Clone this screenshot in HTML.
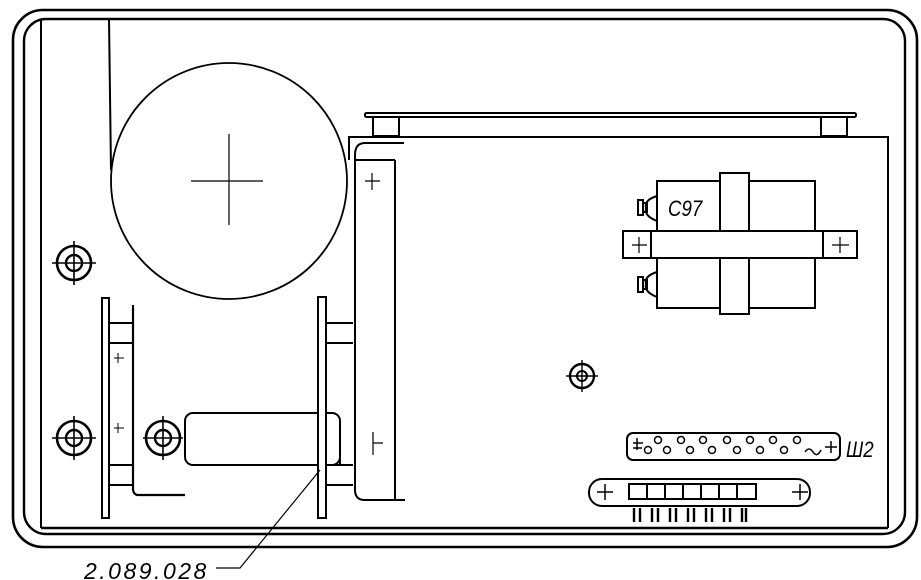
<!DOCTYPE html>
<html><head><meta charset="utf-8"><style>
html,body{margin:0;padding:0;background:#fff;}
svg{display:block;}
text{font-family:"Liberation Sans",sans-serif;font-style:italic;fill:#000;}
</style></head><body>
<svg width="921" height="580" viewBox="0 0 921 580" xmlns="http://www.w3.org/2000/svg" fill="none" stroke="#000" stroke-width="2">
<rect x="13" y="10" width="904" height="537" rx="30" stroke-width="2.6"/>
<rect x="24" y="19" width="881" height="515" rx="22" stroke-width="2.4"/>
<line x1="41" y1="19" x2="41" y2="528"/>
<line x1="41" y1="528" x2="888" y2="528" stroke-width="2.4"/>
<line x1="109" y1="19" x2="111" y2="170"/>
<circle cx="229" cy="181" r="118" stroke-width="1.8"/>
<line x1="191" y1="181" x2="263" y2="181" stroke-width="1.2"/>
<line x1="229" y1="134" x2="229" y2="225" stroke-width="1.2"/>
<rect x="365" y="113" width="491" height="4" rx="1.5"/>
<rect x="373" y="117" width="26" height="19"/>
<rect x="821" y="117" width="26" height="19"/>
<polyline points="349,160 349,137 888,137 888,528"/>
<path d="M404 143 L365 143 Q355 143 355 155 L355 490 Q355 500 365 500 L405 500"/>
<line x1="355" y1="160" x2="395" y2="160"/>
<line x1="395" y1="160" x2="395" y2="500"/>
<path d="M365 181 H380 M372 173 V190" stroke-width="1.2"/>
<path d="M373 432 V455 M373 443 H383" stroke-width="1.2"/>
<rect x="657" y="181" width="158" height="127"/>
<rect x="720" y="173" width="29" height="141" fill="#fff"/>
<rect x="623" y="231" width="234" height="27" fill="#fff"/>
<line x1="651" y1="231" x2="651" y2="258"/>
<line x1="823" y1="231" x2="823" y2="258"/>
<path d="M632 245 H647 M639 237 V253 M832 245 H849 M840 237 V253" stroke-width="1.2"/>
<text x="668" y="216" font-size="22" stroke="none" transform="translate(668 216) scale(0.85 1) translate(-668 -216)">C97</text>
<path d="M657 196 Q644 200 646 208 Q644 216 657 221"/>
<rect x="638" y="200" width="5" height="15"/><rect x="643" y="203" width="4" height="9"/>
<path d="M657 272 Q644 276 646 284 Q644 292 657 297"/>
<rect x="638" y="277" width="5" height="15"/><rect x="643" y="280" width="4" height="9"/>
<g>
<circle cx="582" cy="376" r="12" stroke-width="2.4"/><circle cx="582" cy="376" r="5"/>
<path d="M566 376 H598 M582 360 V392" stroke-width="1.4"/>
</g>
<g>
<circle cx="74" cy="263" r="17" stroke-width="2.6"/><circle cx="74" cy="263" r="8" stroke-width="2.4"/>
<path d="M52 263 H96 M74 241 V285" stroke-width="1.6"/>
</g>
<g>
<circle cx="74" cy="438" r="17" stroke-width="2.6"/><circle cx="74" cy="438" r="8" stroke-width="2.4"/>
<path d="M52 438 H96 M74 416 V460" stroke-width="1.6"/>
</g>
<g>
<circle cx="163" cy="438" r="17" stroke-width="2.6"/><circle cx="163" cy="438" r="8" stroke-width="2.4"/>
<path d="M143 438 H183 M163 416 V460" stroke-width="1.6"/>
</g>
<rect x="102" y="298" width="7" height="220"/>
<path d="M133 305 V490 Q134 495 138 495 H185" stroke-width="2.2"/>
<path d="M109 323 H133 M109 343 H133 M109 465 H133 M109 485 H133" />
<path d="M114 358 H124 M118 353 V363 M114 428 H124 M118 423 V433" stroke-width="1"/>
<rect x="185" y="413" width="155" height="52" rx="8"/>
<line x1="340" y1="425" x2="340" y2="465"/>
<path d="M326 323 H353 M326 343 H353 M326 465 H353 M326 485 H353"/>
<rect x="318" y="297" width="8" height="221" fill="#fff"/>
<polyline points="320,470 240,568 216,568" stroke-width="1.2"/>
<text x="84" y="579" font-size="23" stroke="none" letter-spacing="2.5">2.089.028</text>
<rect x="627" y="433" width="213" height="27" rx="6"/>
<g stroke-width="1.5">
<circle cx="658" cy="440" r="3.5"/><circle cx="681" cy="440" r="3.5"/><circle cx="703" cy="440" r="3.5"/><circle cx="727" cy="440" r="3.5"/><circle cx="750" cy="440" r="3.5"/><circle cx="773" cy="440" r="3.5"/><circle cx="797" cy="440" r="3.5"/>
<circle cx="648" cy="450" r="3.5"/><circle cx="667" cy="450" r="3.5"/><circle cx="690" cy="450" r="3.5"/><circle cx="712" cy="450" r="3.5"/><circle cx="737" cy="450" r="3.5"/><circle cx="760" cy="450" r="3.5"/><circle cx="784" cy="450" r="3.5"/>
<path d="M805 452 q4 -6 8 0 q4 6 8 -2"/>
<path d="M825 447 H837 M831 441 V453 M633 443 H643 M637 438 V450 M633 448 H642"/>
</g>
<text x="846" y="457" font-size="22" stroke="none" transform="translate(846 457) scale(0.85 1) translate(-846 -457)">Ш2</text>
<rect x="589" y="479" width="221" height="27" rx="13"/>
<path d="M597 492 H613 M605 484 V500 M792 492 H808 M800 484 V500" stroke-width="1.5"/>
<rect x="629" y="484" width="127" height="15"/>
<path d="M647 484 V499 M665 484 V499 M683 484 V499 M701 484 V499 M719 484 V499 M737 484 V499"/>
<g stroke-width="2.4">
<path d="M634 508 v14 M640 508 v14 M652 508 v14 M658 508 v14 M670 508 v14 M676 508 v14 M688 508 v14 M694 508 v14 M706 508 v14 M712 508 v14 M724 508 v14 M730 508 v14 M742 508 v14 M746 508 v14"/>
</g>
</svg>
</body></html>
